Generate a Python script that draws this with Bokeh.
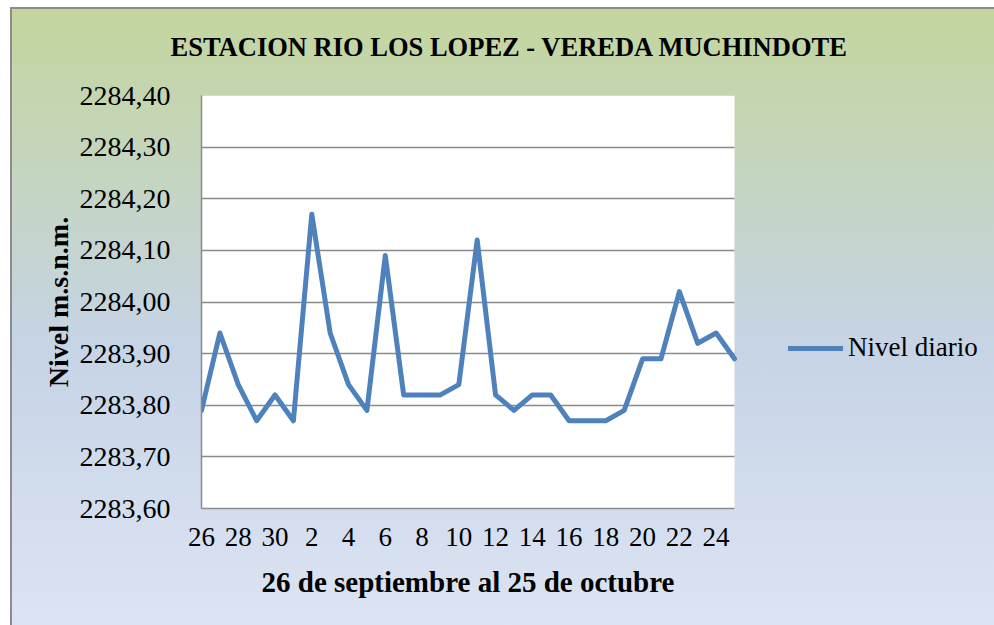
from bokeh.plotting import figure
from bokeh.models import (Range1d, FixedTicker, CustomJSTickFormatter, Legend, LegendItem,
                          BoxAnnotation, Title)
from bokeh.embed import file_html
from bokeh.resources import INLINE

# ---- data ----
days = [26, 27, 28, 29, 30, 1, 2, 3, 4, 5, 6, 7, 8, 9, 10, 11, 12, 13, 14, 15,
        16, 17, 18, 19, 20, 21, 22, 23, 24, 25]
nivel = [2283.79, 2283.94, 2283.84, 2283.77, 2283.82, 2283.77, 2284.17, 2283.94,
         2283.84, 2283.79, 2284.09, 2283.82, 2283.82, 2283.82, 2283.84, 2284.12,
         2283.82, 2283.79, 2283.82, 2283.82, 2283.77, 2283.77, 2283.77, 2283.79,
         2283.89, 2283.89, 2284.02, 2283.92, 2283.94, 2283.89]
y_ticks = [2283.60, 2283.70, 2283.80, 2283.90, 2284.00, 2284.10, 2284.20, 2284.30, 2284.40]
title_text = "ESTACION RIO LOS LOPEZ - VEREDA MUCHINDOTE"
x_label = "26 de septiembre al 25 de octubre"
y_label = "Nivel m.s.n.m."
series_name = "Nivel diario"

idx = list(range(len(days)))
x_tick_idx = idx[::2]
x_overrides = {i: str(days[i]) for i in x_tick_idx}

FONT = "Liberation Serif"
BLUE = "#4F81BD"
GRAY = "#8a8a8a"

# layout constants (pixels)
FIG_W, FIG_H = 984, 625
BORDER_L = 191
PLOT_W = 533           # width of the white plot area
EXTRA_R = FIG_W - BORDER_L - PLOT_W   # legend space kept inside the frame
n_last = len(days) - 1
x_end = n_last + EXTRA_R * n_last / PLOT_W

p = figure(width=FIG_W, height=FIG_H, output_backend="svg", toolbar_location=None,
           x_range=Range1d(0, x_end), y_range=Range1d(y_ticks[0], y_ticks[-1]),
           min_border_left=BORDER_L, min_border_right=0, min_border_top=95,
           min_border_bottom=117)
p.margin = (0, 0, 0, 10)

p.border_fill_color = None
p.background_fill_color = None
p.outline_line_color = None
p.styles = {
    "background-image": "linear-gradient(to bottom, #C3D69B 0%, #C5D5C6 32%, #C6D4E6 56%, #DDE4F3 100%)",
    "box-shadow": "inset 0 7px 0 #ffffff, inset 0 9px 0 #8c8c8c, inset 2px 0 0 #8c8c8c",
}

# white plot area
p.add_layout(BoxAnnotation(left=0, right=n_last, fill_color="white", fill_alpha=1,
                           line_color=None, level="image"))

# title
p.title.text = title_text
p.title.text_font = FONT
p.title.text_font_style = "bold"
p.title.text_font_size = "26.5px"
p.title.text_color = "black"
p.title.align = "left"
p.title.vertical_align = "top"
p.title.offset = -31
p.title.standoff = 63

r = p.line(idx, nivel, line_width=5, line_color=BLUE, line_join="round", line_cap="round")

# x axis
xa = p.xaxis[0]
xa.ticker = FixedTicker(ticks=x_tick_idx)
xa.major_label_overrides = x_overrides
xa.bounds = (0, n_last)
xa.major_label_text_font = FONT
xa.major_label_text_font_size = "27px"
xa.major_label_text_color = "black"
xa.major_label_standoff = 13
xa.major_tick_line_color = None
xa.minor_tick_line_color = None
xa.axis_line_color = GRAY
xa.axis_line_width = 1.5

p.add_layout(Title(text=x_label, text_font=FONT, text_font_style="bold",
                   text_font_size="29px", text_color="black", align="left",
                   offset=60, standoff=30), "below")

# y axis
ya = p.yaxis[0]
ya.ticker = FixedTicker(ticks=y_ticks)
ya.formatter = CustomJSTickFormatter(code="return tick.toFixed(2).replace('.', ',');")
ya.axis_label = y_label
ya.axis_label_text_font = FONT
ya.axis_label_text_font_style = "bold"
ya.axis_label_text_font_size = "28px"
ya.axis_label_text_color = "black"
ya.axis_label_standoff = 3
ya.major_label_text_font = FONT
ya.major_label_text_font_size = "28px"
ya.major_label_text_color = "black"
ya.major_label_standoff = 25
ya.major_tick_line_color = None
ya.minor_tick_line_color = None
ya.axis_line_color = GRAY
ya.axis_line_width = 1.5

p.xgrid.grid_line_color = None
p.ygrid.grid_line_color = GRAY
p.ygrid.grid_line_width = 1.5
p.ygrid.cross_bounds = (0, n_last)

legend = Legend(items=[LegendItem(label=series_name, renderers=[r])],
                location=(587, 145), orientation="vertical",
                glyph_width=55, glyph_height=30, label_standoff=5,
                padding=0, margin=0, spacing=0,
                label_text_font=FONT, label_text_font_size="27px",
                label_text_color="black",
                background_fill_alpha=0, border_line_color=None)
p.add_layout(legend)

open("out.html", "w").write(file_html(p, INLINE))
